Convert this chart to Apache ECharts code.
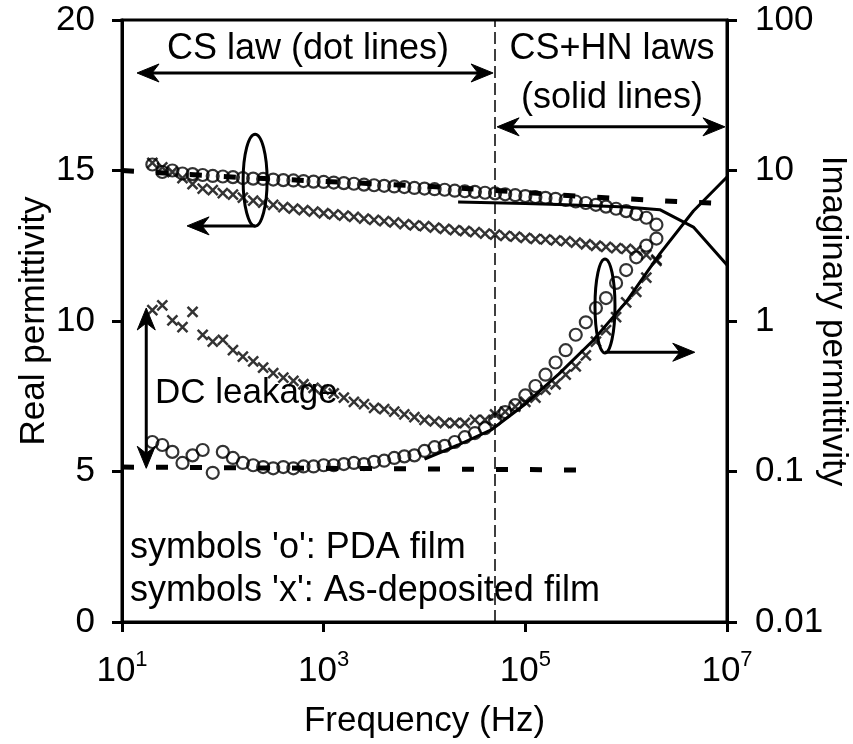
<!DOCTYPE html>
<html>
<head>
<meta charset="utf-8">
<script src="https://cdn.jsdelivr.net/npm/echarts@6/dist/echarts.min.js"></script>
<style>
  html, body { margin: 0; padding: 0; background: #fff; }
  #chart { width: 853px; height: 744px; }
</style>
</head>
<body>
<div id="chart"></div>
<script>
// ---- measured dielectric spectra (10 points per decade, 20 Hz .. 2 MHz) ----
const freqs = [20, 25.1, 31.6, 39.8, 50.1, 63.1, 79.4, 100, 126, 158, 200, 251, 316, 398, 501, 631, 794,
  1000, 1259, 1585, 1995, 2512, 3162, 3981, 5012, 6310, 7943,
  10000, 12589, 15849, 19953, 25119, 31623, 39811, 50119, 63096, 79433,
  100000, 125893, 158489, 199526, 251189, 316228, 398107, 501187, 630957, 794328,
  1000000, 1258925, 1584893, 1995262];

// real part, PDA film (circles)
const realPDA = [15.2, 14.95, 15.0, 14.9, 14.88, 14.85, 14.82, 14.8, 14.78, 14.75, 14.73, 14.72, 14.7, 14.68,
  14.67, 14.65, 14.63, 14.62, 14.6, 14.58, 14.56, 14.53, 14.51, 14.49, 14.47, 14.45, 14.42, 14.4, 14.38,
  14.36, 14.33, 14.31, 14.29, 14.26, 14.24, 14.21, 14.18, 14.15, 14.12, 14.09, 14.06, 14.02, 13.97, 13.92,
  13.86, 13.8, 13.73, 13.65, 13.55, 13.43, 13.2];

// real part, as-deposited film (crosses)
const realAsDep = [15.25, 15.1, 14.95, 14.75, 14.55, 14.4, 14.35, 14.25, 14.2, 14.1, 14.0, 13.93, 13.86, 13.78,
  13.73, 13.68, 13.63, 13.58, 13.54, 13.5, 13.46, 13.4, 13.36, 13.32, 13.28, 13.22, 13.18, 13.15, 13.1,
  13.06, 13.02, 12.99, 12.95, 12.9, 12.87, 12.83, 12.8, 12.76, 12.73, 12.71, 12.68, 12.65, 12.6, 12.55,
  12.5, 12.46, 12.42, 12.4, 12.35, 12.2, 12.0];

// imaginary part, PDA film (circles)
const imagPDA = [0.157, 0.15, 0.135, 0.114, 0.128, 0.139, 0.098, 0.135, 0.123, 0.114, 0.11, 0.107, 0.105,
  0.107, 0.105, 0.108, 0.108, 0.11, 0.11, 0.112, 0.114, 0.112, 0.116, 0.118, 0.123, 0.126, 0.128, 0.137,
  0.145, 0.148, 0.157, 0.169, 0.18, 0.194, 0.22, 0.248, 0.276, 0.32, 0.37, 0.44, 0.53, 0.64, 0.81, 0.98,
  1.22, 1.42, 1.79, 2.18, 2.65, 3.17, 3.53];

// imaginary part, as-deposited film (crosses)
const imagAsDep = [1.18, 1.27, 1.01, 0.91, 1.15, 0.81, 0.73, 0.75, 0.64, 0.58, 0.54, 0.49, 0.45, 0.42, 0.4,
  0.38, 0.36, 0.35, 0.33, 0.31, 0.29, 0.28, 0.265, 0.26, 0.25, 0.24, 0.23, 0.22, 0.215, 0.21, 0.21, 0.21,
  0.22, 0.22, 0.24, 0.25, 0.27, 0.29, 0.31, 0.35, 0.38, 0.44, 0.5, 0.59, 0.73, 0.87, 1.06, 1.33, 1.56,
  1.94, 2.56];

// ---- CS law (dashed) ----
const csRealFreqs = [10, 31.6, 100, 316, 1000, 3162, 10000, 31623, 100000, 316228, 1000000, 3162278, 10000000];
const csRealVals = [15.0, 14.9, 14.8, 14.72, 14.64, 14.56, 14.48, 14.38, 14.27, 14.15, 14.06, 13.97, 13.9];
const csImagFreqs = [10, 100, 1000, 10000, 100000, 398107];
const csImagVals = [0.107, 0.106, 0.105, 0.104, 0.103, 0.102];

// ---- CS + HN laws (solid) ----
const hnRealFreqs = [21544, 46416, 100000, 215443, 464159, 1000000, 2154435, 4641589, 10000000];
const hnRealVals = [13.95, 13.93, 13.9, 13.87, 13.83, 13.79, 13.7, 13.12, 11.86];
const hnImagFreqs = [10000, 21544, 46416, 100000, 215443, 464159, 1000000, 2154435, 4641589, 10000000];
const hnImagVals = [0.121, 0.15, 0.19, 0.281, 0.445, 0.736, 1.34, 2.79, 5.38, 9.06];

// boundary between the two fitting ranges
const boundaryFreq = 50000;

// axis ticks
const xTicks = [10, 1000, 100000, 10000000];
const yLeftTicks = [0, 5, 10, 15, 20];
const yRightTicks = [0.01, 0.1, 1, 10, 100];

const FONT = "'Liberation Sans', Arial, sans-serif";
const FS = 35;
const BLACK = '#000';

const zip = (xs, ys) => xs.map((x, i) => [x, ys[i]]);
const crossPath = 'path://M0,0L10,10M10,0L0,10';

const circleStyle = { color: 'rgba(0,0,0,0)', borderColor: BLACK, borderWidth: 2.2 };
const crossStyle = { color: 'rgba(0,0,0,0)', borderColor: BLACK, borderWidth: 2.5 };

const chart = echarts.init(document.getElementById('chart'), null, { renderer: 'canvas' });

const option = {
  animation: false,
  backgroundColor: '#fff',
  grid: { left: 122, top: 20, width: 605, height: 602, show: true, borderColor: BLACK, borderWidth: 3,
          backgroundColor: 'rgba(0,0,0,0)', containLabel: false, outerBoundsMode: 'none' },
  xAxis: {
    type: 'log', logBase: 10, min: 10, max: 10000000,
    name: 'Frequency (Hz)', nameLocation: 'middle', nameGap: 82, nameMoveOverlap: false,
    nameTextStyle: { fontFamily: FONT, fontSize: FS, color: BLACK },
    axisLine: { lineStyle: { color: BLACK, width: 3 } },
    axisTick: { show: true, inside: false, length: 10, lineStyle: { color: BLACK, width: 3 }, customValues: xTicks },
    splitLine: { show: false },
    axisLabel: {
      customValues: xTicks, margin: 27,
      formatter: v => '{b|10}{s|' + Math.round(Math.log10(v)) + '}',
      rich: {
        b: { fontFamily: FONT, fontSize: FS, color: BLACK, lineHeight: 40, verticalAlign: 'bottom' },
        s: { fontFamily: FONT, fontSize: 22, color: BLACK, lineHeight: 40, verticalAlign: 'top' }
      }
    }
  },
  yAxis: [
    {
      type: 'value', min: 0, max: 20, interval: 5, position: 'left',
      name: 'Real permittivity', nameLocation: 'middle', nameGap: 70, nameMoveOverlap: false,
      nameTextStyle: { fontFamily: FONT, fontSize: FS, color: BLACK },
      axisLine: { show: true, lineStyle: { color: BLACK, width: 3 } },
      axisTick: { show: true, inside: false, length: 10, lineStyle: { color: BLACK, width: 3 } },
      splitLine: { show: false },
      axisLabel: { customValues: yLeftTicks, fontFamily: FONT, fontSize: FS, color: BLACK, margin: 27 }
    },
    {
      type: 'log', logBase: 10, min: 0.01, max: 100, position: 'right',
      name: 'Imaginary permittivity', nameLocation: 'middle', nameGap: 88, nameRotate: -90, nameMoveOverlap: false,
      nameTextStyle: { fontFamily: FONT, fontSize: FS, color: BLACK },
      axisLine: { show: true, lineStyle: { color: BLACK, width: 3 } },
      axisTick: { show: true, inside: false, length: 10, lineStyle: { color: BLACK, width: 3 }, customValues: yRightTicks },
      splitLine: { show: false },
      axisLabel: { customValues: yRightTicks, fontFamily: FONT, fontSize: FS, color: BLACK, margin: 28,
                   formatter: v => String(v) }
    }
  ],
  series: [
    { name: 'real PDA', type: 'scatter', yAxisIndex: 0, z: 5, symbol: 'circle', symbolSize: 12,
      itemStyle: circleStyle, data: zip(freqs, realPDA) },
    { name: 'real as-deposited', type: 'scatter', yAxisIndex: 0, z: 5, symbol: crossPath, symbolSize: 10,
      itemStyle: crossStyle, data: zip(freqs, realAsDep) },
    { name: 'imag PDA', type: 'scatter', yAxisIndex: 1, z: 5, symbol: 'circle', symbolSize: 12,
      itemStyle: circleStyle, data: zip(freqs, imagPDA) },
    { name: 'imag as-deposited', type: 'scatter', yAxisIndex: 1, z: 5, symbol: crossPath, symbolSize: 10,
      itemStyle: crossStyle, data: zip(freqs, imagAsDep) },
    { name: 'CS real', type: 'line', yAxisIndex: 0, z: 3, showSymbol: false, symbol: 'none',
      lineStyle: { color: BLACK, width: 5, type: [12, 22], cap: 'butt' }, data: zip(csRealFreqs, csRealVals),
      markLine: {
        silent: true, symbol: 'none', label: { show: false },
        lineStyle: { color: BLACK, width: 1.5, type: [12, 5] },
        data: [{ xAxis: boundaryFreq }]
      } },
    { name: 'CS imag', type: 'line', yAxisIndex: 1, z: 3, showSymbol: false, symbol: 'none',
      lineStyle: { color: BLACK, width: 5, type: [12, 22], cap: 'butt' }, data: zip(csImagFreqs, csImagVals) },
    { name: 'CS+HN real', type: 'line', yAxisIndex: 0, z: 4, showSymbol: false, symbol: 'none',
      lineStyle: { color: BLACK, width: 3 }, data: zip(hnRealFreqs, hnRealVals) },
    { name: 'CS+HN imag', type: 'line', yAxisIndex: 1, z: 4, showSymbol: false, symbol: 'none',
      lineStyle: { color: BLACK, width: 3 }, data: zip(hnImagFreqs, hnImagVals) }
  ]
};

chart.setOption(option);

// ---- annotations, placed in data space and converted to pixels ----
const toReal = (f, v) => chart.convertToPixel({ seriesIndex: 0 }, [f, v]);
const toImag = (f, v) => chart.convertToPixel({ seriesIndex: 2 }, [f, v]);

const LINE = { stroke: BLACK, lineWidth: 3, fill: 'none' };

function head(tip, from) {
  const dx = tip[0] - from[0], dy = tip[1] - from[1];
  const len = Math.hypot(dx, dy), ux = dx / len, uy = dy / len;
  const L = 22, W = 9, N = 7;
  const bx = tip[0] - ux * L, by = tip[1] - uy * L;
  return {
    type: 'polygon', z: 20,
    shape: { points: [tip, [bx - uy * W, by + ux * W], [tip[0] - ux * (L - N), tip[1] - uy * (L - N)], [bx + uy * W, by - ux * W]] },
    style: { fill: BLACK, stroke: BLACK, lineWidth: 1 }
  };
}
function arrow(a, b, both) {
  const dx = b[0] - a[0], dy = b[1] - a[1], len = Math.hypot(dx, dy);
  const ux = dx / len, uy = dy / len;
  const a2 = both ? [a[0] + ux * 10, a[1] + uy * 10] : a;
  const b2 = [b[0] - ux * 10, b[1] - uy * 10];
  const els = [{ type: 'line', z: 20, shape: { x1: a2[0], y1: a2[1], x2: b2[0], y2: b2[1] }, style: LINE }, head(b, a)];
  if (both) els.push(head(a, b));
  return els;
}
function text(str, p, align, size) {
  return {
    type: 'text', z: 20, x: p[0], y: p[1],
    style: { text: str, fill: BLACK, font: (size || 36) + 'px ' + FONT, textAlign: align || 'center',
             textVerticalAlign: 'middle', align: align || 'center', verticalAlign: 'middle' }
  };
}
function ellipse(c, rx, ry) {
  return { type: 'ellipse', z: 20, shape: { cx: c[0], cy: c[1], rx: rx, ry: ry }, style: LINE };
}

const g = [];
g.push(text('CS law (dot lines)', toReal(700, 19.05)));
g.push(...arrow(toReal(14.1, 18.24), toReal(47863, 18.24), true));
g.push(text('CS+HN laws', toReal(724436, 19.05)));
g.push(text('(solid lines)', toReal(724436, 17.4)));
g.push(...arrow(toReal(52480, 16.45), toReal(9550000, 16.45), true));

const e1 = toReal(209, 14.68);
g.push(ellipse(e1, 12, 46));
g.push(...arrow(toReal(209, 13.16), toReal(44.2, 13.16), false));

const e2 = toImag(616595, 1.26);
g.push(ellipse(e2, 10, 47));
g.push(...arrow(toImag(616595, 0.62), toImag(4790000, 0.62), false));

g.push(...arrow(toImag(17.4, 1.22), toImag(17.4, 0.105), true));
g.push(text('DC leakage', toReal(21.2, 7.6), 'left', 35));

g.push(text("symbols 'o': PDA film", toReal(12, 2.46), 'left'));
g.push(text("symbols 'x': As-deposited film", toReal(12, 1.03), 'left'));

chart.setOption({ graphic: { elements: g } });
</script>
</body>
</html>
